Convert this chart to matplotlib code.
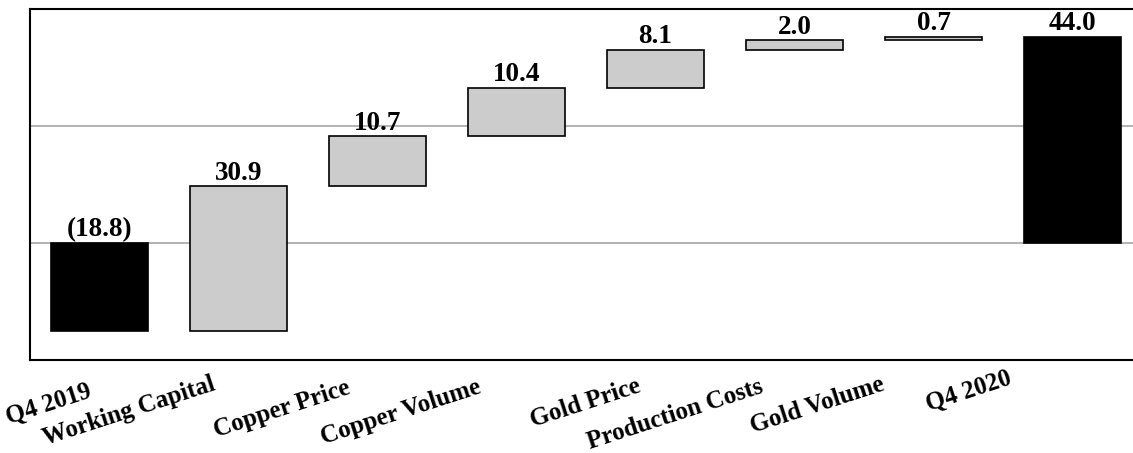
import numpy as np
import matplotlib.pyplot as plt

categories = ["Q4 2019", "Working Capital", "Copper Price", "Copper Volume",
              "Gold Price", "Production Costs", "Gold Volume", "Q4 2020"]
start_value = -18.8
changes = [30.9, 10.7, 10.4, 8.1, 2.0, 0.7]
end_value = 44.0

# label anchor offsets (pixels) from each bar centre at the axis bottom
label_dx = [-7, -22, -26, -34, -14, -30, -48, -60]
label_dy = [37, 30, 33, 33, 32, 32, 30, 24]

plt.rcParams['font.family'] = ['Liberation Serif', 'DejaVu Serif']

# floating bars: each change starts where the running total left off
running = start_value + np.concatenate([[0], np.cumsum(changes)])
bottoms = [0] + list(running[:-1]) + [0]
heights = [start_value] + changes + [end_value]
colors = ['black'] + ['#cccccc'] * len(changes) + ['black']

fig = plt.figure(figsize=(11.33, 4.53), dpi=100)
ax = fig.add_axes([30 / 1133, 1 - 360 / 453, 1112 / 1133, 351 / 453])

x = np.arange(len(categories))
ax.bar(x, heights, bottom=bottoms, width=0.7, color=colors,
       edgecolor='black', linewidth=1.2, zorder=3)

for i, (b, h) in enumerate(zip(bottoms, heights)):
    top = max(b, b + h)
    txt = f"({abs(h):.1f})" if h < 0 else f"{h:.1f}"
    ax.annotate(txt, (i, top), xytext=(0, 0.5), textcoords='offset points',
                ha='center', va='bottom', fontsize=19.5, fontweight='bold', zorder=4)

for i, name in enumerate(categories):
    ax.annotate(name, (i, 0), xycoords=('data', 'axes fraction'),
                xytext=(label_dx[i], -label_dy[i]), textcoords='offset pixels',
                ha='right', va='baseline', rotation=18, rotation_mode='anchor',
                fontsize=18, fontweight='bold', annotation_clip=False)

ax.set_xlim(-0.5, 7.5)
ax.set_ylim(-25, 50)
ax.set_yticks([0, 25])
ax.yaxis.grid(True, color='#a6a6a6', linewidth=1.2, zorder=0)
ax.tick_params(left=False, bottom=False, labelleft=False, labelbottom=False)
for s in ax.spines.values():
    s.set_linewidth(1.5)

fig.savefig("out.png", dpi=100)
